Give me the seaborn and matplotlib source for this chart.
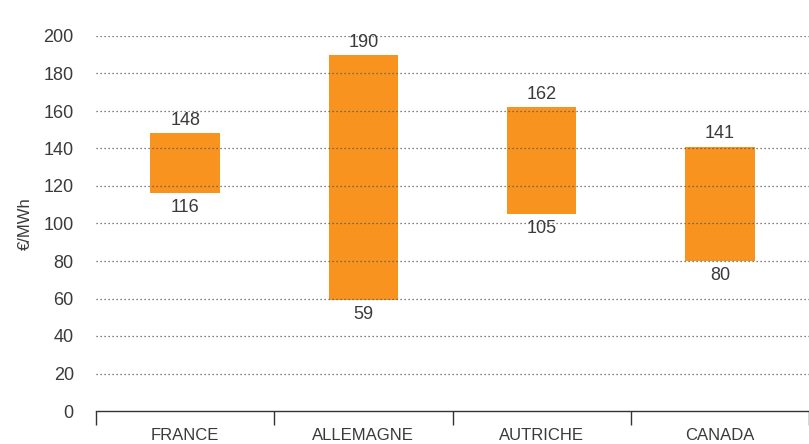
import matplotlib
matplotlib.use("Agg")
import matplotlib.pyplot as plt
import seaborn as sns
import numpy as np
import pandas as pd

# Price ranges per country (€/MWh)
countries = ["FRANCE", "ALLEMAGNE", "AUTRICHE", "CANADA"]
low_values = [116, 59, 105, 80]
high_values = [148, 190, 162, 141]
y_ticks = [0, 20, 40, 60, 80, 100, 120, 140, 160, 180, 200]

sns.set_theme(style="white")
plt.rcParams["font.family"] = ["Liberation Sans", "DejaVu Sans"]

text_color = "#3a3a3a"
bar_color = "#F7931E"

df = pd.DataFrame({
    "pays": countries,
    "bas": low_values,
    "haut": high_values,
})
df["ecart"] = df["haut"] - df["bas"]

fig = plt.figure(figsize=(8.09, 4.44), dpi=100)
ax = fig.add_axes([96 / 809, 33 / 444, 1 - 96 / 809, (411 - 36) / 444])

sns.barplot(data=df, x="pays", y="ecart", bottom=df["bas"].values,
            color=bar_color, saturation=1, width=0.39, ax=ax,
            linewidth=0, zorder=2)

ax.set_xlim(-0.5, len(countries) - 0.5)
ax.set_ylim(0, 200)

# dotted gridlines above the bars
for v in y_ticks[1:]:
    ax.axhline(v, color="#555555", linestyle=(0, (1, 2.2)), linewidth=0.9, zorder=3)

ax.set_yticks(y_ticks)
ax.set_yticklabels([str(v) for v in y_ticks], fontsize=13, color=text_color)
ax.tick_params(axis="y", left=False, length=0, pad=16)

ax.set_xticks(range(len(countries)))
ax.set_xticklabels(countries, fontsize=12, color=text_color)
ax.tick_params(axis="x", which="major", bottom=False, length=0, pad=12)
ax.set_xticks(np.arange(-0.5, len(countries)), minor=True)
ax.tick_params(axis="x", which="minor", bottom=True, length=10, width=1,
               color="#333333", direction="out")

ax.set_xlabel("")
ax.set_ylabel("€/MWh", fontsize=12, color=text_color, labelpad=8)

for s in ["top", "right", "left"]:
    ax.spines[s].set_visible(False)
ax.spines["bottom"].set_color("#333333")
ax.spines["bottom"].set_linewidth(1)
ax.spines["bottom"].set_zorder(4)

# value labels at each end of the bars
for i, (lo, hi) in enumerate(zip(low_values, high_values)):
    ax.annotate(str(hi), (i, hi), xytext=(0, 3), textcoords="offset points",
                ha="center", va="bottom", fontsize=13, color=text_color, zorder=5)
    ax.annotate(str(lo), (i, lo), xytext=(0, -4), textcoords="offset points",
                ha="center", va="top", fontsize=13, color=text_color, zorder=5)

fig.savefig("out.png", dpi=100)
